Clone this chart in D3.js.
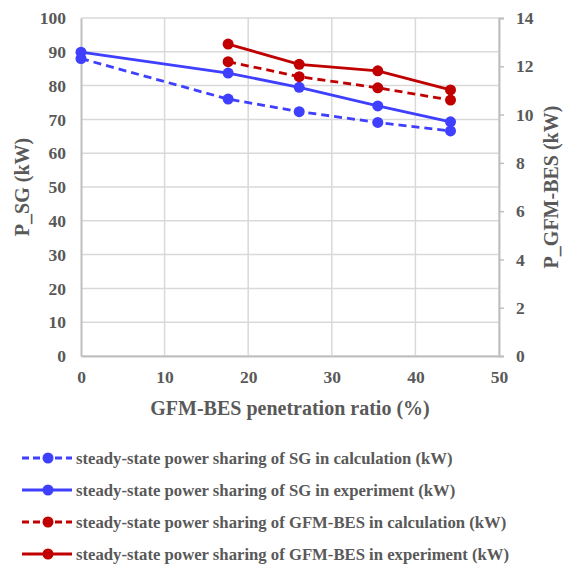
<!doctype html>
<html lang="en">
<head>
<meta charset="utf-8">
<title>Power sharing vs GFM-BES penetration</title>
<script src="https://d3js.org/d3.v7.min.js"></script>
<style>
  body { margin: 0; background: #fff; }
  .grid line { stroke: #d9d9d9; stroke-width: 1.5; }
</style>
</head>
<body>
<div id="chart"></div>
<script>
// penetration ratio (%)
const ratioSG = [0, 17.6, 26.1, 35.5, 44.2];
const ratioBES = [17.6, 26.1, 35.5, 44.2];

// left axis, kW
const sgCalc = [88.0, 76.0, 72.3, 69.1, 66.6];
const sgExp = [89.9, 83.7, 79.5, 74.0, 69.3];
// right axis, kW
const besCalc = [12.19, 11.57, 11.11, 10.6];
const besExp = [12.92, 12.08, 11.81, 11.02];

const xTicks = [0, 10, 20, 30, 40, 50];
const yTicks = [0, 10, 20, 30, 40, 50, 60, 70, 80, 90, 100];
const y2Ticks = [0, 2, 4, 6, 8, 10, 12, 14];

const legendLabels = [
  'steady-state power sharing of SG in calculation (kW)',
  'steady-state power sharing of SG in experiment (kW)',
  'steady-state power sharing of GFM-BES in calculation (kW)',
  'steady-state power sharing of GFM-BES in experiment (kW)'
];

const blue = '#3f3fff', red = '#c00000';
const font = '"Liberation Serif", "Times New Roman", serif';

const width = 568, height = 564;
const m = { left: 81, right: 499, top: 18, bottom: 356 };

const svg = d3.select('#chart').append('svg')
  .attr('width', width).attr('height', height);

const x = d3.scaleLinear().domain([0, 50]).range([m.left, m.right]);
const y = d3.scaleLinear().domain([0, 100]).range([m.bottom, m.top]);
const y2 = d3.scaleLinear().domain([0, 14]).range([m.bottom, m.top]);

// every text gets the same serif bold grey look
const txt = (sel, size) => sel
  .style('font-family', font).style('font-weight', 'bold')
  .style('font-size', size + 'px').style('fill', '#595959');

// grid
const grid = svg.append('g').attr('class', 'grid');
grid.selectAll('.h').data(yTicks).join('line')
  .attr('x1', m.left).attr('x2', m.right)
  .attr('y1', d => y(d)).attr('y2', d => y(d));
grid.selectAll('.v').data(xTicks.slice(1)).join('line')
  .attr('x1', d => x(d)).attr('x2', d => x(d))
  .attr('y1', m.top).attr('y2', m.bottom);

// axes
const axisStyle = g => {
  g.attr('font-family', font);
  g.select('.domain').attr('stroke', '#bfbfbf').attr('stroke-width', 2);
  g.selectAll('.tick line').attr('stroke', '#bfbfbf').attr('stroke-width', 1.5);
  g.selectAll('.tick text').call(txt, 17.5);
};

svg.append('g')
  .attr('transform', `translate(0,${m.bottom})`)
  .call(d3.axisBottom(x).tickValues(xTicks).tickSize(0).tickPadding(15))
  .call(axisStyle);

svg.append('g')
  .attr('transform', `translate(${m.left},0)`)
  .call(d3.axisLeft(y).tickValues(yTicks).tickSize(0).tickPadding(15))
  .call(axisStyle);

svg.append('g')
  .attr('transform', `translate(${m.right},0)`)
  .call(d3.axisRight(y2).tickValues(y2Ticks).tickSize(5).tickPadding(12))
  .call(axisStyle);

// axis titles
svg.append('text')
  .attr('x', (m.left + m.right) / 2).attr('y', 415)
  .attr('text-anchor', 'middle').call(txt, 20)
  .text('GFM-BES penetration ratio (%)');

svg.append('text')
  .attr('transform', `translate(29,${(m.top + m.bottom) / 2}) rotate(-90)`)
  .attr('text-anchor', 'middle').call(txt, 20)
  .text('P_SG (kW)');

svg.append('text')
  .attr('transform', `translate(558,${(m.top + m.bottom) / 2}) rotate(-90)`)
  .attr('text-anchor', 'middle').call(txt, 20)
  .text('P_GFM-BES (kW)');

// series
const series = [
  { xs: ratioSG, ys: sgCalc, sc: y, color: blue, dash: '8,5' },
  { xs: ratioSG, ys: sgExp, sc: y, color: blue, dash: null },
  { xs: ratioBES, ys: besCalc, sc: y2, color: red, dash: '8,5' },
  { xs: ratioBES, ys: besExp, sc: y2, color: red, dash: null }
];

series.forEach(s => {
  const pts = s.xs.map((v, i) => [x(v), s.sc(s.ys[i])]);
  svg.append('path')
    .attr('d', d3.line()(pts))
    .attr('fill', 'none')
    .attr('stroke', s.color)
    .attr('stroke-width', 2.8)
    .attr('stroke-dasharray', s.dash);
  svg.append('g').selectAll('circle').data(pts).join('circle')
    .attr('cx', d => d[0]).attr('cy', d => d[1]).attr('r', 5.5)
    .attr('fill', s.color);
});

// legend
const legend = svg.append('g');
series.forEach((s, i) => {
  const ly = 458 + i * 32;
  legend.append('line')
    .attr('x1', 22).attr('x2', 72).attr('y1', ly).attr('y2', ly)
    .attr('stroke', s.color).attr('stroke-width', 2.8)
    .attr('stroke-dasharray', s.dash ? '7,4' : null);
  legend.append('circle').attr('cx', 48).attr('cy', ly).attr('r', 5.5).attr('fill', s.color);
  legend.append('text')
    .attr('x', 76).attr('y', ly + 6)
    .call(txt, 16.7)
    .text(legendLabels[i]);
});
</script>
</body>
</html>
